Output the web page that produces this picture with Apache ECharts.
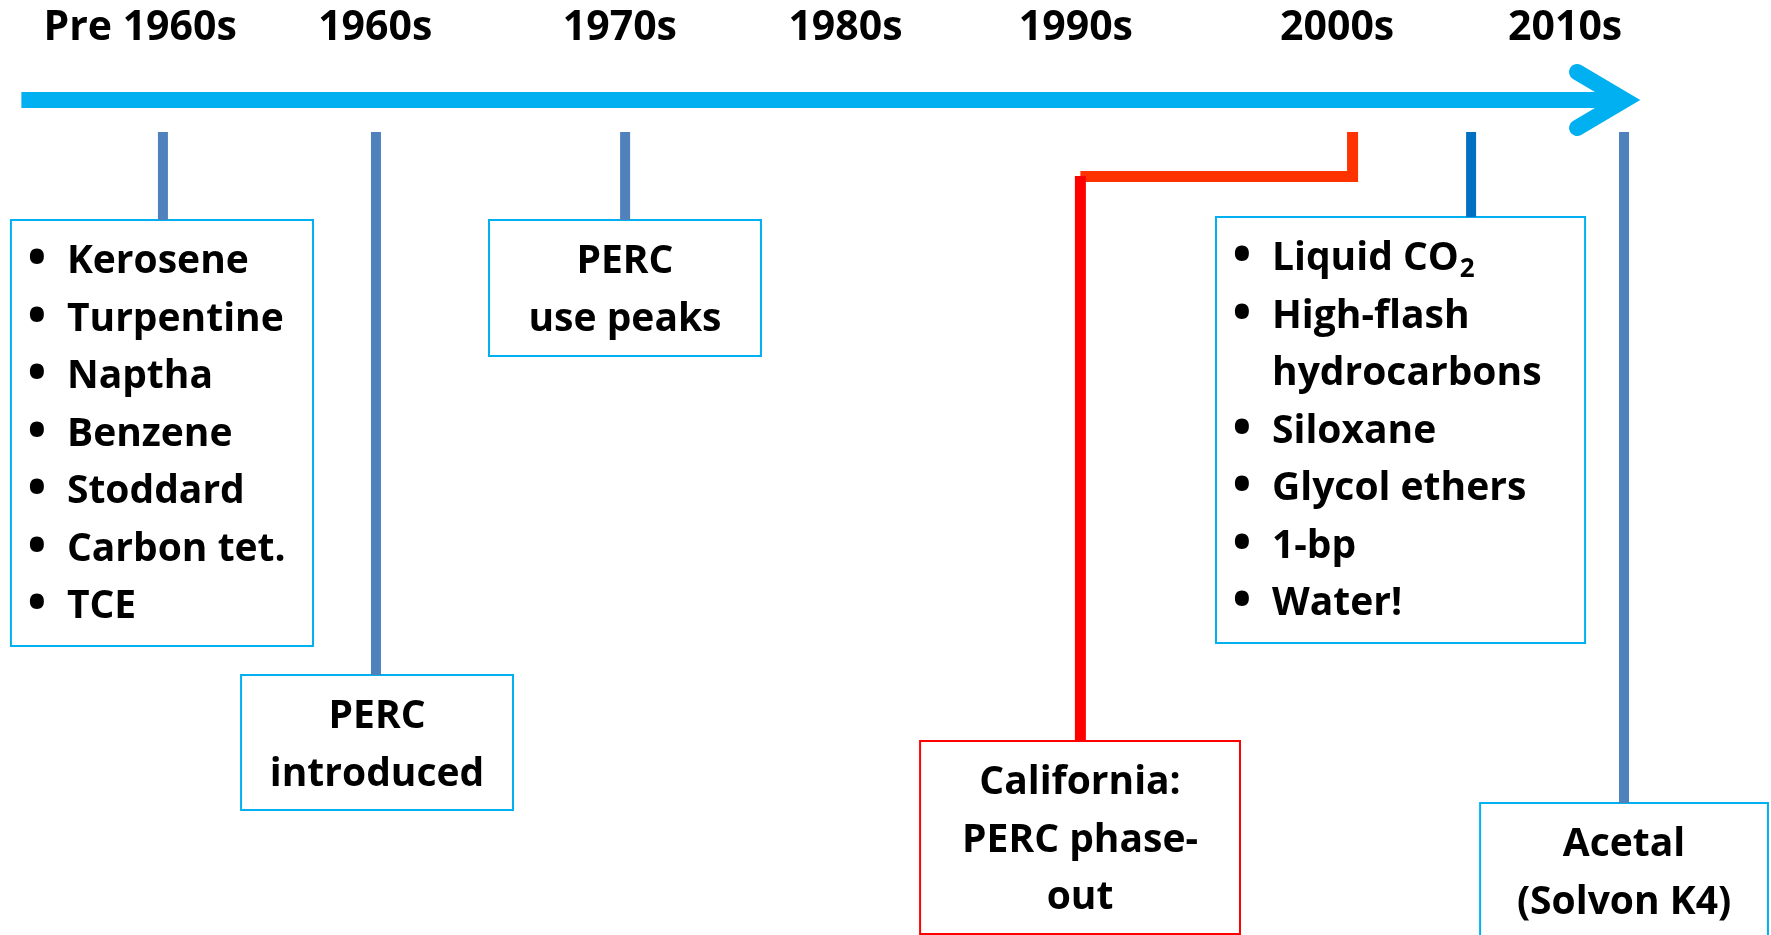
<!DOCTYPE html>
<html>
<head>
<meta charset="utf-8">
<title>Dry cleaning solvents timeline</title>
<script src="https://cdn.jsdelivr.net/npm/echarts/dist/echarts.min.js"></script>
<style>
    html, body { margin: 0; padding: 0; background: #fff; }
    #main { width: 1771px; height: 935px; }
</style>
</head>
<body>
<div id="main"></div>
<script>
// x axis is in years, y axis is a layout row (0 = top, 935 = bottom)
const eraLabels = ['Pre 1960s', '1960s', '1970s', '1980s', '1990s', '2000s', '2010s']
const eraYears = [1949.9, 1959.8, 1970.1, 1979.6, 1989.3, 2000.3, 2009.9]

// the big arrow
const arrowShaft = [[1944.9, 100], [2012.4, 100]]
const arrowHead = [[2010.4, 72], [2012.4, 100], [2010.4, 128]]

// drop lines from the arrow down to each box
const stemYears = [1950.86, 1959.83, 1970.32, 2005.94, 2012.38]
const stemTop = [132, 132, 132, 132, 132]
const stemBottom = [220, 675, 220, 217, 803]

// the California phase-out elbow
const phaseOutElbow = [[2000.95, 132], [2000.95, 176.5], [1989.49, 176.5]]
const phaseOutDrop = [[1989.49, 176], [1989.49, 741]]

// boxes
const boxFrom = [1944.46, 1954.15, 1964.59, 1982.74, 1995.2, 2006.32]
const boxTo = [1957.18, 1965.6, 1976.04, 1996.21, 2010.74, 2018.44]
const boxTop = [220, 675, 220, 741, 217, 803]
const boxBottom = [646, 810, 356, 934, 643, 960]
const boxItems = [
    ['Kerosene', 'Turpentine', 'Naptha', 'Benzene', 'Stoddard', 'Carbon tet.', 'TCE'],
    ['PERC\nintroduced'],
    ['PERC\nuse peaks'],
    ['California:\nPERC phase-\nout'],
    ['Liquid CO_2', 'High-flash\nhydrocarbons', 'Siloxane', 'Glycol ethers', '1-bp', 'Water!'],
    ['Acetal\n(Solvon K4)']
]
const boxBulleted = [true, false, false, false, true, false]

// styles
const HEAD_FONT = 'bold 41px "Open Sans"'
const FONT = 'bold 39px "Open Sans"'
const SUB_FONT = 'bold 26px "Open Sans"'
const BULLET_FONT = 'bold 50px "Open Sans"'
const LINE_GAP = 57.5
const stemColors = ['#4F81BD', '#4F81BD', '#4F81BD', '#0070C0', '#4F81BD']
const boxBorder = ['#00B0F0', '#00B0F0', '#00B0F0', '#FF0000', '#00B0F0', '#00B0F0']

const measureCtx = document.createElement('canvas').getContext('2d')
function textWidth(str, font) {
    measureCtx.font = font
    return measureCtx.measureText(str).width
}

function segment(data, color, width, extra) {
    return {
        type: 'line',
        data: data,
        symbol: 'none',
        silent: true,
        animation: false,
        lineStyle: Object.assign({ color: color, width: width, cap: 'butt', join: 'miter' }, extra || {})
    }
}

function renderBox(params, api) {
    const i = params.dataIndex
    const tl = api.coord([api.value(0), api.value(2)])
    const br = api.coord([api.value(1), api.value(3)])
    const children = [{
        type: 'rect',
        shape: { x: tl[0], y: tl[1], width: br[0] - tl[0], height: br[1] - tl[1] },
        style: { fill: '#fff', stroke: boxBorder[i], lineWidth: 2 }
    }]
    let row = 0
    boxItems[i].forEach(item => {
        item.split('\n').forEach((line, k) => {
            const y = tl[1] + 42 + row * LINE_GAP
            let x, align
            if (boxBulleted[i]) {
                x = tl[0] + 56
                align = 'left'
                if (k === 0) {
                    children.push({
                        type: 'text',
                        style: { text: '•', x: tl[0] + 26, y: y - 1, fill: '#000', font: BULLET_FONT, align: 'center', verticalAlign: 'middle' }
                    })
                }
            } else {
                x = (tl[0] + br[0]) / 2
                align = 'center'
            }
            const parts = line.split('_')
            children.push({
                type: 'text',
                style: { text: parts[0], x: x, y: y, fill: '#000', font: FONT, align: align, verticalAlign: 'middle' }
            })
            if (parts[1]) {
                children.push({
                    type: 'text',
                    style: { text: parts[1], x: x + textWidth(parts[0], FONT) + 1, y: y + 11, fill: '#000', font: SUB_FONT, align: 'left', verticalAlign: 'middle' }
                })
            }
            row++
        })
    })
    return { type: 'group', children: children }
}

const series = []
series.push(segment(arrowShaft, '#00B0F0', 16))
series.push(segment(arrowHead, '#00B0F0', 16, { cap: 'round' }))
stemYears.forEach((yr, i) => {
    series.push(segment([[yr, stemTop[i]], [yr, stemBottom[i]]], stemColors[i], 10))
})
series.push(segment(phaseOutElbow, '#FF3300', 11))
series.push(segment(phaseOutDrop, '#FF0000', 11))
series.push({
    type: 'custom',
    silent: true,
    animation: false,
    renderItem: renderBox,
    data: boxFrom.map((v, i) => [v, boxTo[i], boxTop[i], boxBottom[i]])
})
series.push({
    type: 'custom',
    silent: true,
    animation: false,
    renderItem: function (params, api) {
        const p = api.coord([api.value(0), api.value(1)])
        return {
            type: 'text',
            style: { text: eraLabels[params.dataIndex], x: p[0], y: p[1], fill: '#000', font: HEAD_FONT, align: 'center', verticalAlign: 'middle' }
        }
    },
    data: eraYears.map(v => [v, 28])
})

const chart = echarts.init(document.getElementById('main'), null, { renderer: 'canvas' })
chart.setOption({
    backgroundColor: '#fff',
    animation: false,
    grid: { left: 0, right: 0, top: 0, bottom: 0 },
    xAxis: { type: 'value', min: 1944, max: 2018.568, show: false },
    yAxis: { type: 'value', min: 0, max: 935, inverse: true, show: false },
    series: series
})
</script>
</body>
</html>
